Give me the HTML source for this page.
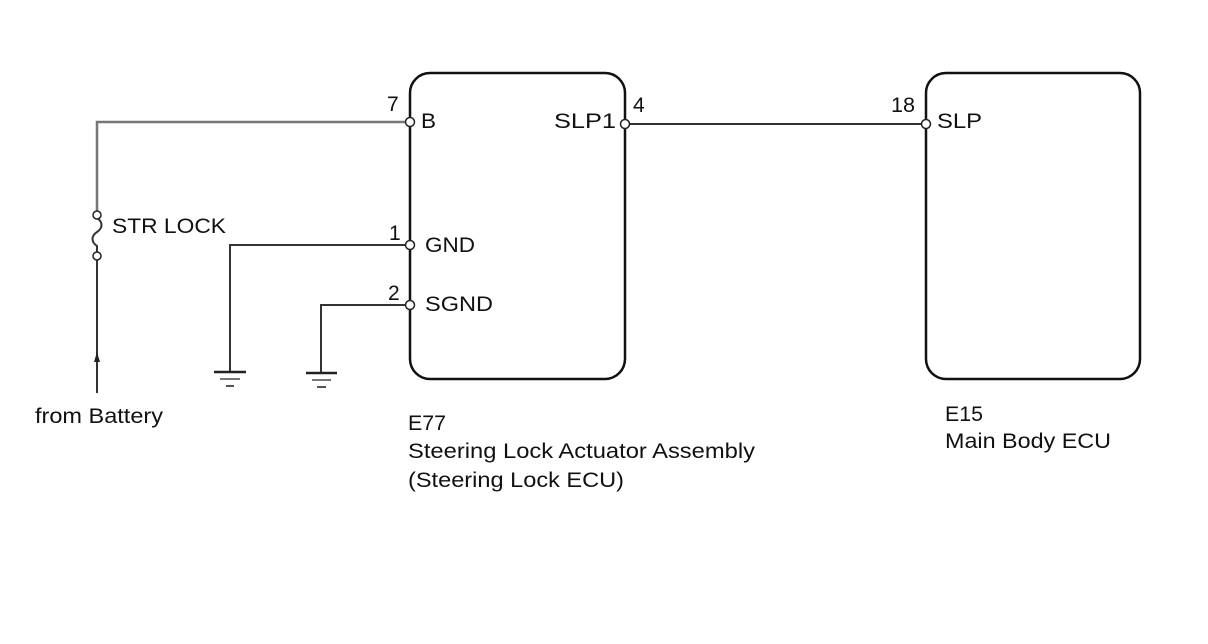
<!DOCTYPE html>
<html><head><meta charset="utf-8"><style>
html,body{margin:0;padding:0;background:#fff;width:1208px;height:644px;overflow:hidden}
text{font-family:"Liberation Sans",Arial,sans-serif;font-size:21px;fill:#111}
</style></head><body>
<svg width="1208" height="644" viewBox="0 0 1208 644" xmlns="http://www.w3.org/2000/svg">
<g fill="none" stroke-linecap="butt">
<rect x="410" y="73" width="215" height="306" rx="20" stroke="#111" stroke-width="2.5"/>
<rect x="926" y="73" width="214" height="306" rx="20" stroke="#111" stroke-width="2.5"/>
<polyline points="97,214 97,122 410,122" stroke="#777" stroke-width="2.5"/>
<line x1="97" y1="257" x2="97" y2="393" stroke="#333" stroke-width="2"/>
<path d="M97,218 C103,222 103,228 97,232 C91,236 91,242 97,246 L97,253" stroke="#333" stroke-width="2"/>
<polyline points="410,245 230,245 230,371" stroke="#333" stroke-width="2"/>
<polyline points="410,305 321,305 321,372" stroke="#333" stroke-width="2"/>
<line x1="625" y1="124" x2="926" y2="124" stroke="#333" stroke-width="2"/>
<line x1="214" y1="372" x2="246" y2="372" stroke="#222" stroke-width="2.5"/>
<line x1="220" y1="379" x2="240" y2="379" stroke="#777" stroke-width="2"/>
<line x1="226" y1="386" x2="234" y2="386" stroke="#555" stroke-width="2"/>
<line x1="306" y1="373" x2="337" y2="373" stroke="#222" stroke-width="2.5"/>
<line x1="312" y1="380" x2="331" y2="380" stroke="#777" stroke-width="2"/>
<line x1="317" y1="387" x2="326" y2="387" stroke="#555" stroke-width="2"/>
</g>
<path d="M97,352 L94,362 L100,362 Z" fill="#222"/>
<g fill="#fff" stroke="#222" stroke-width="1.5">
<circle cx="97" cy="215" r="4"/><circle cx="97" cy="256" r="4"/>
<circle cx="410" cy="122" r="4.5"/><circle cx="410" cy="245" r="4.5"/><circle cx="410" cy="305" r="4.5"/>
<circle cx="625" cy="124" r="4.5"/><circle cx="926" cy="124" r="4.5"/>
</g>
<g lengthAdjust="spacingAndGlyphs">
<text x="387" y="111">7</text><text x="421" y="128" textLength="15" lengthAdjust="spacingAndGlyphs">B</text>
<text x="112" y="233" textLength="114" lengthAdjust="spacingAndGlyphs">STR LOCK</text>
<text x="389" y="240">1</text><text x="425" y="252" textLength="50" lengthAdjust="spacingAndGlyphs">GND</text>
<text x="388" y="300">2</text><text x="425" y="311" textLength="68" lengthAdjust="spacingAndGlyphs">SGND</text>
<text x="554" y="128" textLength="62" lengthAdjust="spacingAndGlyphs">SLP1</text><text x="633" y="112">4</text>
<text x="891" y="112" textLength="24" lengthAdjust="spacingAndGlyphs">18</text><text x="937" y="128" textLength="45" lengthAdjust="spacingAndGlyphs">SLP</text>
<text x="35" y="423" textLength="128" lengthAdjust="spacingAndGlyphs">from Battery</text>
<text x="408" y="430" textLength="38" lengthAdjust="spacingAndGlyphs">E77</text>
<text x="408" y="458" textLength="347" lengthAdjust="spacingAndGlyphs">Steering Lock Actuator Assembly</text>
<text x="408" y="487" textLength="216" lengthAdjust="spacingAndGlyphs">(Steering Lock ECU)</text>
<text x="945" y="421" textLength="38" lengthAdjust="spacingAndGlyphs">E15</text>
<text x="945" y="448" textLength="166" lengthAdjust="spacingAndGlyphs">Main Body ECU</text>
</g>
</svg>
</body></html>
